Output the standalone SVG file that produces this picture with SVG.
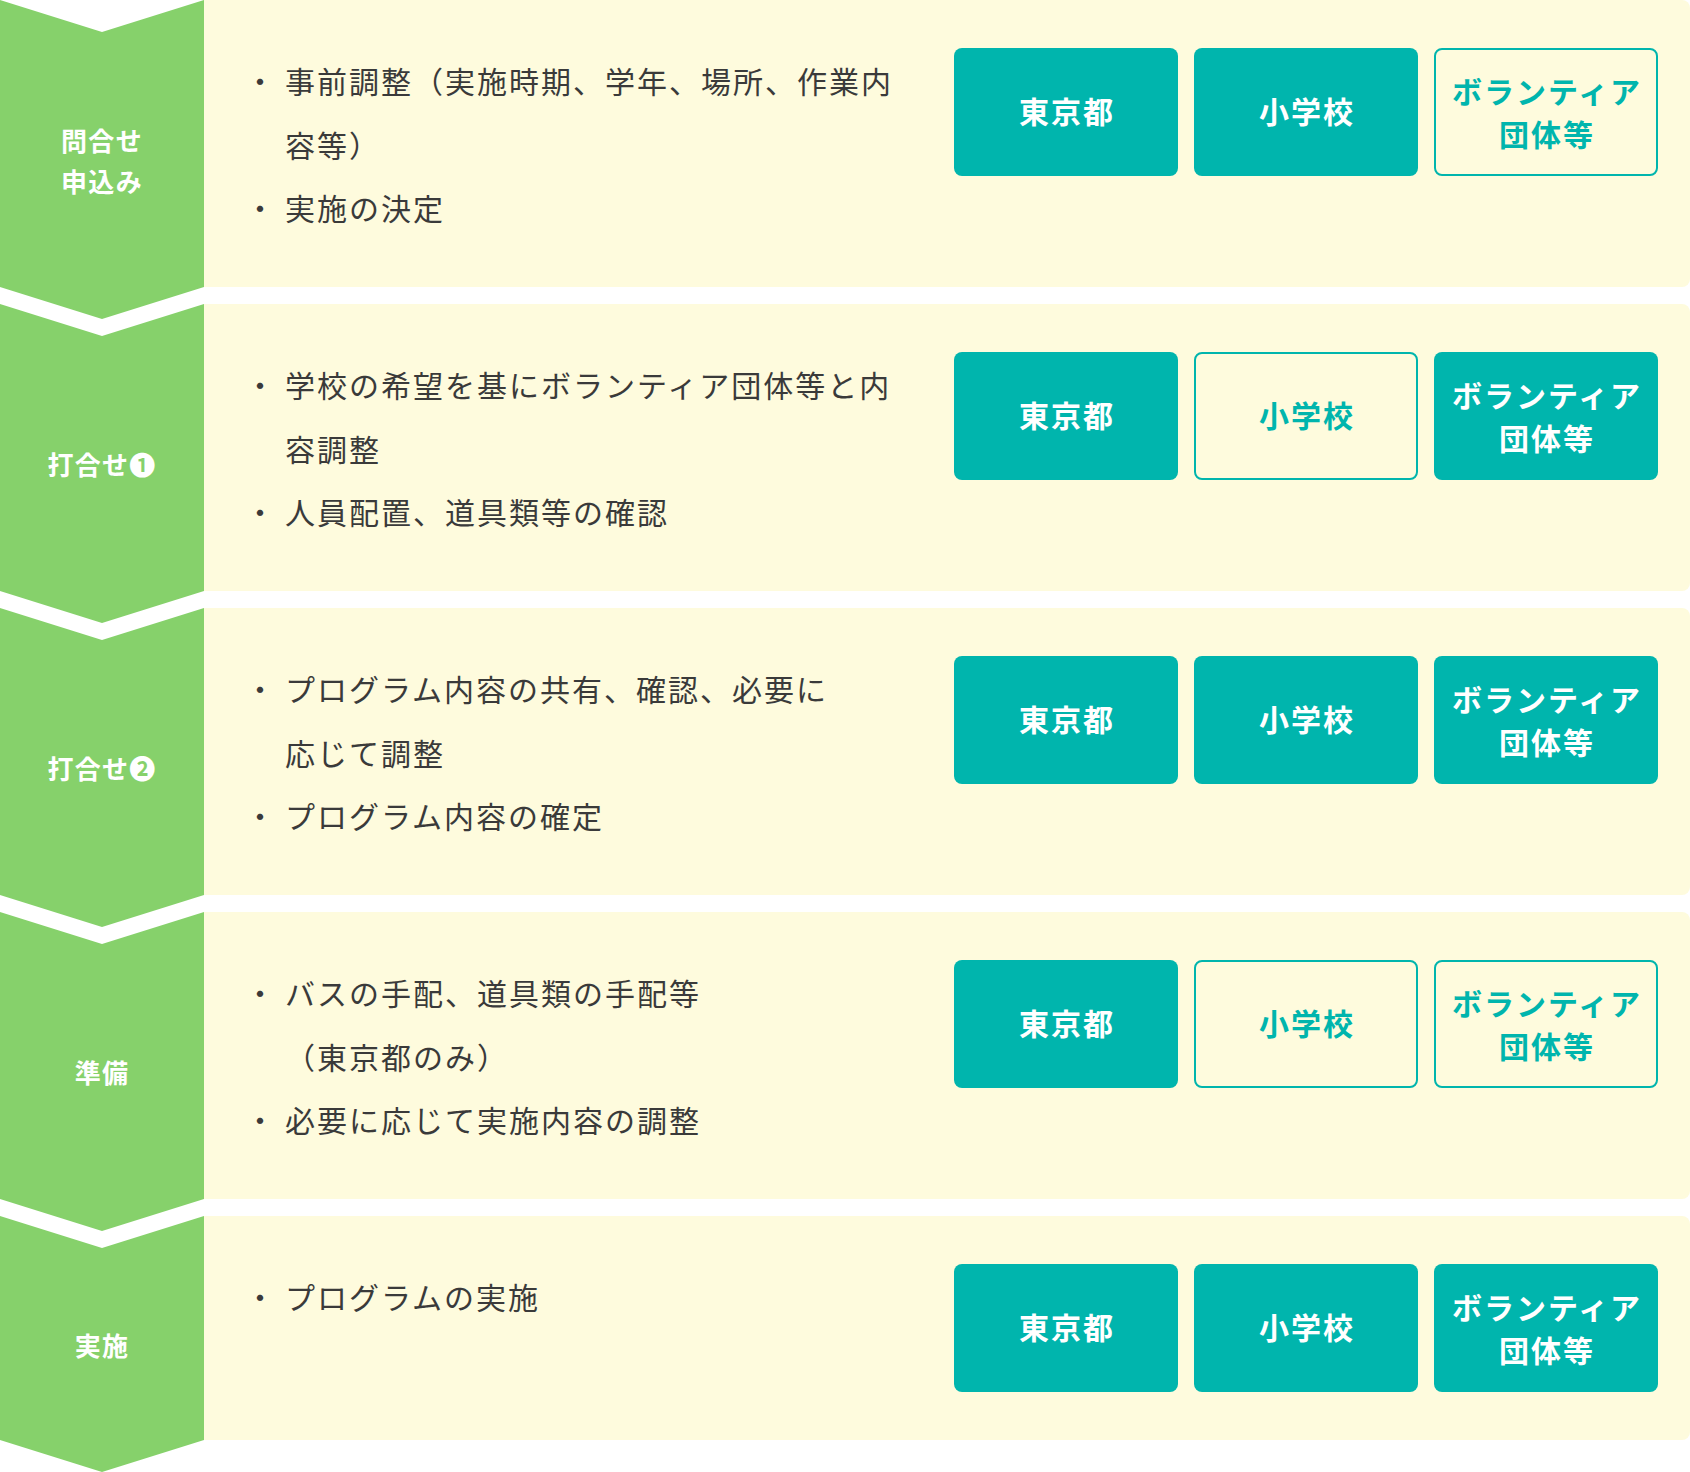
<svg xmlns="http://www.w3.org/2000/svg" width="1690" height="1472" viewBox="0 0 1690 1472">
<style>
.green{fill:#86d16b}
.panel{fill:#fefbdd}
.lbl{font-family:"Noto Sans CJK JP","Noto Sans",sans-serif;font-weight:700;font-size:26px;fill:#ffffff;text-anchor:middle;dominant-baseline:central;letter-spacing:1.3px}
.body{font-family:"Noto Sans CJK JP","Noto Sans",sans-serif;font-size:30px;fill:#3a3a3a;dominant-baseline:central;letter-spacing:2px}
.dot{font-family:"Noto Sans CJK JP","Noto Sans",sans-serif;font-size:30px;fill:#3a3a3a;dominant-baseline:central;text-anchor:middle}
.bf{fill:#00b5ad}
.bo{fill:none;stroke:#00b5ad;stroke-width:2}
.bt{font-family:"Noto Sans CJK JP","Noto Sans",sans-serif;font-weight:700;font-size:30px;text-anchor:middle;dominant-baseline:central;letter-spacing:2px}
.wt{fill:#ffffff}
.tt{fill:#00b5ad}
</style>
<rect width="1690" height="1472" fill="#ffffff"/>

<g id="step1">
<polygon class="green" points="0,0 102,32 204,0 204,287 102,319 0,287"/>
<path class="panel" d="M204,0 H1682 A8,8 0 0 1 1690,8 V279 A8,8 0 0 1 1682,287 H204 Z"/>
<text class="lbl" x="102" y="139">問合せ</text>
<text class="lbl" x="102" y="180">申込み</text>
<text class="dot" x="260" y="80">・</text>
<text class="body" x="285" y="80">事前調整（実施時期、学年、場所、作業内</text>
<text class="body" x="285" y="143.5">容等）</text>
<text class="dot" x="260" y="207">・</text>
<text class="body" x="285" y="207">実施の決定</text>
<rect class="bf" x="954" y="48" width="224" height="128" rx="8"/>
<text class="bt wt" x="1067" y="110">東京都</text>
<rect class="bf" x="1194" y="48" width="224" height="128" rx="8"/>
<text class="bt wt" x="1307" y="110">小学校</text>
<rect class="bo" x="1435" y="49" width="222" height="126" rx="7"/>
<text class="bt tt" x="1547" y="90">ボランティア</text>
<text class="bt tt" x="1547" y="133">団体等</text>
</g>

<g id="step2">
<polygon class="green" points="0,304 102,336 204,304 204,591 102,623 0,591"/>
<path class="panel" d="M204,304 H1682 A8,8 0 0 1 1690,312 V583 A8,8 0 0 1 1682,591 H204 Z"/>
<text class="lbl" x="102" y="463">打合せ❶</text>
<text class="dot" x="260" y="384">・</text>
<text class="body" x="285" y="384">学校の希望を基にボランティア団体等と内</text>
<text class="body" x="285" y="447.5">容調整</text>
<text class="dot" x="260" y="511">・</text>
<text class="body" x="285" y="511">人員配置、道具類等の確認</text>
<rect class="bf" x="954" y="352" width="224" height="128" rx="8"/>
<text class="bt wt" x="1067" y="414">東京都</text>
<rect class="bo" x="1195" y="353" width="222" height="126" rx="7"/>
<text class="bt tt" x="1307" y="414">小学校</text>
<rect class="bf" x="1434" y="352" width="224" height="128" rx="8"/>
<text class="bt wt" x="1547" y="394">ボランティア</text>
<text class="bt wt" x="1547" y="437">団体等</text>
</g>

<g id="step3">
<polygon class="green" points="0,608 102,640 204,608 204,895 102,927 0,895"/>
<path class="panel" d="M204,608 H1682 A8,8 0 0 1 1690,616 V887 A8,8 0 0 1 1682,895 H204 Z"/>
<text class="lbl" x="102" y="767">打合せ❷</text>
<text class="dot" x="260" y="688">・</text>
<text class="body" x="285" y="688">プログラム内容の共有、確認、必要に</text>
<text class="body" x="285" y="751.5">応じて調整</text>
<text class="dot" x="260" y="815">・</text>
<text class="body" x="285" y="815">プログラム内容の確定</text>
<rect class="bf" x="954" y="656" width="224" height="128" rx="8"/>
<text class="bt wt" x="1067" y="718">東京都</text>
<rect class="bf" x="1194" y="656" width="224" height="128" rx="8"/>
<text class="bt wt" x="1307" y="718">小学校</text>
<rect class="bf" x="1434" y="656" width="224" height="128" rx="8"/>
<text class="bt wt" x="1547" y="698">ボランティア</text>
<text class="bt wt" x="1547" y="741">団体等</text>
</g>

<g id="step4">
<polygon class="green" points="0,912 102,944 204,912 204,1199 102,1231 0,1199"/>
<path class="panel" d="M204,912 H1682 A8,8 0 0 1 1690,920 V1191 A8,8 0 0 1 1682,1199 H204 Z"/>
<text class="lbl" x="102" y="1071">準備</text>
<text class="dot" x="260" y="992">・</text>
<text class="body" x="285" y="992">バスの手配、道具類の手配等</text>
<text class="body" x="285" y="1055.5">（東京都のみ）</text>
<text class="dot" x="260" y="1119">・</text>
<text class="body" x="285" y="1119">必要に応じて実施内容の調整</text>
<rect class="bf" x="954" y="960" width="224" height="128" rx="8"/>
<text class="bt wt" x="1067" y="1022">東京都</text>
<rect class="bo" x="1195" y="961" width="222" height="126" rx="7"/>
<text class="bt tt" x="1307" y="1022">小学校</text>
<rect class="bo" x="1435" y="961" width="222" height="126" rx="7"/>
<text class="bt tt" x="1547" y="1002">ボランティア</text>
<text class="bt tt" x="1547" y="1045">団体等</text>
</g>

<g id="step5">
<polygon class="green" points="0,1216 102,1248 204,1216 204,1440 102,1472 0,1440"/>
<path class="panel" d="M204,1216 H1682 A8,8 0 0 1 1690,1224 V1432 A8,8 0 0 1 1682,1440 H204 Z"/>
<text class="lbl" x="102" y="1344">実施</text>
<text class="dot" x="260" y="1296">・</text>
<text class="body" x="285" y="1296">プログラムの実施</text>
<rect class="bf" x="954" y="1264" width="224" height="128" rx="8"/>
<text class="bt wt" x="1067" y="1326">東京都</text>
<rect class="bf" x="1194" y="1264" width="224" height="128" rx="8"/>
<text class="bt wt" x="1307" y="1326">小学校</text>
<rect class="bf" x="1434" y="1264" width="224" height="128" rx="8"/>
<text class="bt wt" x="1547" y="1306">ボランティア</text>
<text class="bt wt" x="1547" y="1349">団体等</text>
</g>

<g id="connectors"/>
</svg>
